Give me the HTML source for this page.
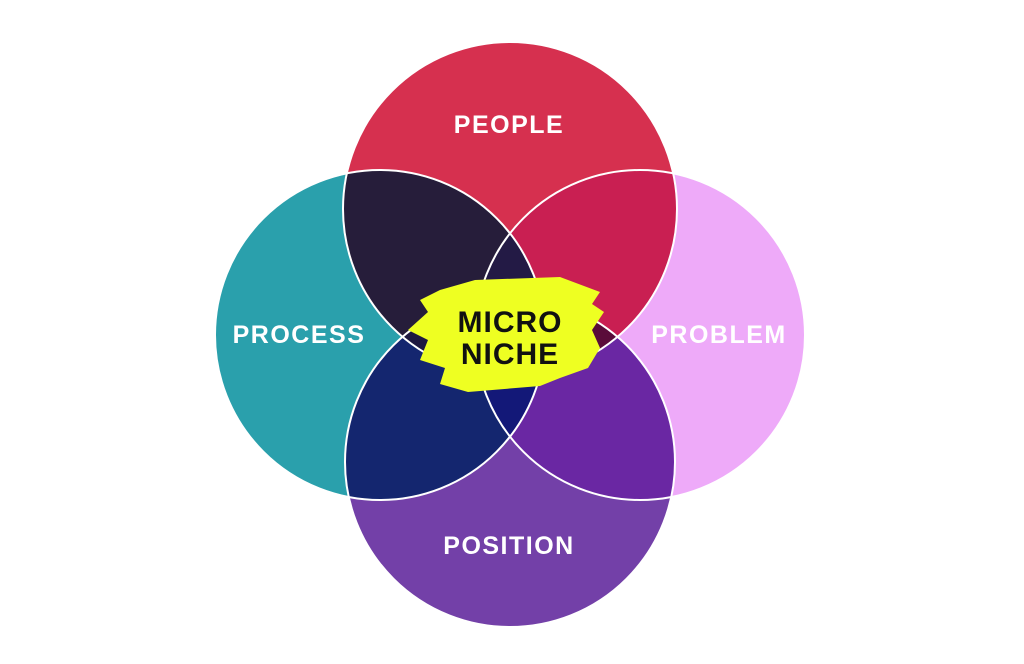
<!DOCTYPE html>
<html><head><style>
html,body{margin:0;padding:0;background:#fff;width:1024px;height:664px;overflow:hidden}
text{font-family:"Liberation Sans",sans-serif;font-weight:bold}
</style></head><body>
<svg width="1024" height="664" viewBox="0 0 1024 664">
<defs>
<clipPath id="cT"><circle cx="510" cy="209" r="167"/></clipPath>
<clipPath id="cL"><circle cx="380" cy="335" r="165"/></clipPath>
<clipPath id="cR"><circle cx="640" cy="335" r="165"/></clipPath>
<clipPath id="cB"><circle cx="510" cy="462" r="165"/></clipPath>
</defs>
<circle cx="510" cy="209" r="167" fill="#D6304F"/>
<circle cx="380" cy="335" r="165" fill="#2AA0AC"/>
<circle cx="640" cy="335" r="165" fill="#EEAAF9"/>
<circle cx="510" cy="462" r="165" fill="#7340A8"/>
<g clip-path="url(#cT)"><circle cx="380" cy="335" r="165" fill="#261D3A"/><circle cx="640" cy="335" r="165" fill="#C91F52"/></g>
<g clip-path="url(#cB)"><circle cx="380" cy="335" r="165" fill="#14266F"/><circle cx="640" cy="335" r="165" fill="#6A27A3"/></g>
<g clip-path="url(#cL)"><circle cx="640" cy="335" r="165" fill="#131878"/></g>
<g clip-path="url(#cT)"><g clip-path="url(#cL)"><circle cx="640" cy="335" r="165" fill="#231A45"/><circle cx="510" cy="462" r="165" fill="#1E1840"/></g></g>
<g clip-path="url(#cT)"><g clip-path="url(#cR)"><circle cx="510" cy="462" r="165" fill="#5A0C3A"/></g></g>
<g fill="none" stroke="#fff" stroke-width="2">
<circle cx="510" cy="209" r="167"/><circle cx="380" cy="335" r="165"/>
<circle cx="640" cy="335" r="165"/><circle cx="510" cy="462" r="165"/>
</g>
<path d="M475 280 L560 277 L600 292 L592 304 L604 312 L592 330 L600 348 L588 368 L560 378 L540 386 L468 392 L440 384 L445 368 L420 360 L428 340 L408 330 L428 312 L420 300 L440 290 Z" fill="#EEFF22"/>
<g font-size="25" fill="#fff" text-anchor="middle" letter-spacing="1.5">
<text x="509" y="133">PEOPLE</text>
<text x="299" y="343">PROCESS</text>
<text x="719" y="343">PROBLEM</text>
<text x="509" y="554">POSITION</text>
</g>
<g font-size="30" fill="#111" text-anchor="middle" letter-spacing="1">
<text x="510" y="332">MICRO</text>
<text x="510" y="364">NICHE</text>
</g>
</svg>
</body></html>
